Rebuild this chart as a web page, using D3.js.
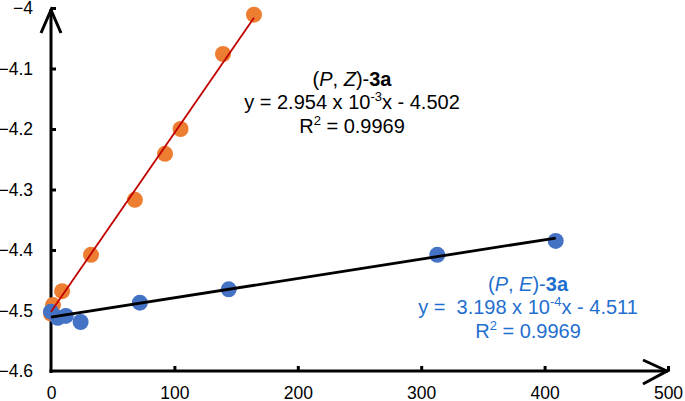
<!DOCTYPE html>
<html>
<head>
<meta charset="utf-8">
<script src="https://cdn.jsdelivr.net/npm/d3@7"></script>
<style>
body { margin: 0; background: #fff; }
text { font-family: "Liberation Sans", Arial, sans-serif; }
</style>
</head>
<body>
<div id="chart"></div>
<script>
// data
var zX = [0, 1.6, 9, 32.4, 68, 92.4, 105, 139.4, 164.5];
var zY = [-4.505, -4.491, -4.468, -4.408, -4.317, -4.241, -4.200, -4.076, -4.011];
var eX = [0, 5.5, 12, 24, 72, 144, 313, 409];
var eY = [-4.502, -4.512, -4.509, -4.519, -4.487, -4.465, -4.408, -4.385];
var zFit = { slope: 2.954e-3, icpt: -4.502 };
var eFit = { slope: 3.198e-4, icpt: -4.511 };
var xTicks = [0, 100, 200, 300, 400, 500];
var yTicks = [-4.6, -4.5, -4.4, -4.3, -4.2, -4.1, -4];

var width = 685, height = 401;
var svg = d3.select("#chart").append("svg")
    .attr("width", width)
    .attr("height", height);

var x = d3.scaleLinear().domain([0, 500]).range([51, 668]);
var y = d3.scaleLinear().domain([-4.6, -4]).range([371, 8]);

var fmt = d => String(+d.toFixed(1)).replace("-", "\u2212");

var yAxis = svg.append("g")
    .attr("transform", `translate(${x(0)},0)`)
    .call(d3.axisLeft(y).tickValues(yTicks).tickSize(-5).tickPadding(18).tickFormat(fmt));
var xAxis = svg.append("g")
    .attr("transform", `translate(0,${y(-4.6)})`)
    .call(d3.axisBottom(x).tickValues(xTicks).tickSize(-5).tickPadding(16).tickFormat(fmt));

[yAxis, xAxis].forEach(a => {
    a.select(".domain").remove();
    a.selectAll("line").attr("stroke", "#000").attr("stroke-width", 3);
    a.selectAll("text").attr("fill", "#000").style("font-size", "17.5px");
});
xAxis.selectAll(".tick").filter(d => d === 0).select("line").remove();
yAxis.selectAll(".tick").filter(d => d === -4.6).select("line").remove();

// axis lines with open arrow heads
var ax = svg.append("g").attr("stroke", "#000").attr("stroke-width", 3).attr("fill", "none");
ax.append("line").attr("x1", x(0)).attr("x2", x(0)).attr("y1", y(-4.6) + 2).attr("y2", y(-4) + 1);
ax.append("line").attr("x1", x(0) - 1.5).attr("x2", x(500)).attr("y1", y(-4.6)).attr("y2", y(-4.6));
ax.append("polyline")
    .attr("points", `${x(0) - 10},${y(-4) + 25} ${x(0)},${y(-4) + 2} ${x(0) + 10},${y(-4) + 25}`);
ax.append("polyline")
    .attr("points", `${x(500) - 25},${y(-4.6) - 11} ${x(500) - 1},${y(-4.6)} ${x(500) - 25},${y(-4.6) + 13}`);

// points
svg.append("g").selectAll("circle")
    .data(d3.zip(zX, zY))
    .enter().append("circle")
    .attr("cx", d => x(d[0]))
    .attr("cy", d => y(d[1]))
    .attr("r", 8)
    .attr("fill", "#ED7D31");

svg.append("g").selectAll("circle")
    .data(d3.zip(eX, eY))
    .enter().append("circle")
    .attr("cx", d => x(d[0]))
    .attr("cy", d => y(d[1]))
    .attr("r", 8)
    .attr("fill", "#4472C4");

// fit lines
function fitLine(fit, xmax, color, w) {
    svg.append("line")
        .attr("x1", x(0)).attr("y1", y(fit.icpt))
        .attr("x2", x(xmax)).attr("y2", y(fit.icpt + fit.slope * xmax))
        .attr("stroke", color).attr("stroke-width", w);
}
fitLine(zFit, d3.max(zX), "#C00000", 1.8);
fitLine(eFit, d3.max(eX), "#000", 2.8);

// annotations
function label(cx, ys, color, name, slope, exp, icpt) {
    var g = svg.append("g").attr("fill", color).style("font-size", "20px").attr("text-anchor", "middle");
    var t1 = g.append("text").attr("x", cx).attr("y", ys[0]);
    t1.append("tspan").text("(");
    t1.append("tspan").style("font-style", "italic").text("P");
    t1.append("tspan").text(", ");
    t1.append("tspan").style("font-style", "italic").text(name);
    t1.append("tspan").text(")-");
    t1.append("tspan").style("font-weight", "bold").text("3a");

    var t2 = g.append("text").attr("x", cx).attr("y", ys[1]).style("white-space", "pre");
    t2.append("tspan").text(slope + " x 10");
    t2.append("tspan").attr("dy", -8).style("font-size", "13px").text(exp);
    t2.append("tspan").attr("dy", 8).text("x - " + icpt);

    var t3 = g.append("text").attr("x", cx).attr("y", ys[2]);
    t3.append("tspan").text("R");
    t3.append("tspan").attr("dy", -8).style("font-size", "13px").text("2");
    t3.append("tspan").attr("dy", 8).text(" = 0.9969");
}
label(352, [86, 109, 133], "#000", "Z", "y = 2.954", "-3", "4.502");
label(528, [291, 314, 338], "#1F6FCF", "E", "y =  3.198", "-4", "4.511");
</script>
</body>
</html>
